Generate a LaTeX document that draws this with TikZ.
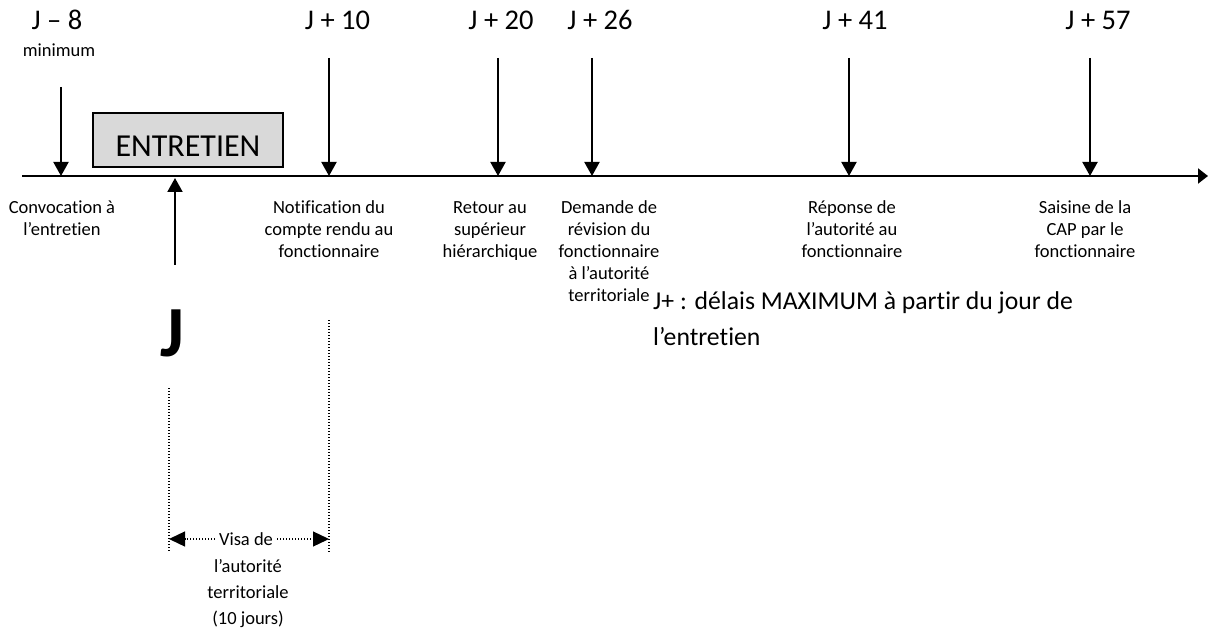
\documentclass[tikz,border=0pt]{standalone}
\usepackage{fontspec}
\setmainfont{Carlito}[Ligatures=NoCommon]
\usetikzlibrary{arrows.meta}
\newcommand\fstrut{\rule{0pt}{15pt}}
\newcommand\bstrut{\rule{0pt}{20pt}}
\begin{document}
\begin{tikzpicture}[x=1pt,y=-1pt,
  evarrow/.style={line width=2pt,-{Triangle[width=15pt,length=14pt]}},
  tlarrow/.style={line width=2pt,-{Triangle[width=15pt,length=10pt]}},
  lbl/.style={font=\fontsize{18.5}{22}\selectfont,align=center,inner sep=0pt,anchor=north},
  toplbl/.style={font=\fontsize{28.5}{34}\selectfont,inner sep=0pt,anchor=base},
  dotline/.style={line width=1.3pt,dash pattern=on 1.3pt off 1.7pt},
  dottip/.style={line width=1.3pt,dash pattern=on 1.3pt off 1.7pt,-{Triangle[width=15pt,length=16pt]}}]
\useasboundingbox (0,0) rectangle (1208,631);

% timeline
\coordinate (tl0) at (22,176);
\coordinate (tl1) at (1208,176);
\draw[tlarrow] (tl0) -- (tl1);

% top labels
\node[toplbl] (jm8) at (57,30) {J – 8};
\node[font=\fontsize{18.5}{22}\selectfont,inner sep=0pt,anchor=base] (min) at (59,57) {minimum};
\node[toplbl] (j10) at (337.5,30) {J + 10};
\node[toplbl] (j20) at (501,30) {J + 20};
\node[toplbl] (j26) at (600,30) {J + 26};
\node[toplbl] (j41) at (855,30) {J + 41};
\node[toplbl] (j57) at (1098,30) {J + 57};

% arrow start / end points
\coordinate (s1) at (61,87);   \coordinate (e1) at (61,176);
\coordinate (s2) at (329,58);  \coordinate (e2) at (329,176);
\coordinate (s3) at (498,58);  \coordinate (e3) at (498,176);
\coordinate (s4) at (592,58);  \coordinate (e4) at (592,176);
\coordinate (s5) at (849,58);  \coordinate (e5) at (849,176);
\coordinate (s6) at (1090,58); \coordinate (e6) at (1090,176);
\foreach \i in {1,...,6} \draw[evarrow] (s\i) -- (e\i);

% entretien box
\node[draw,line width=1.5pt,fill=black!15,minimum width=190pt,minimum height=54pt,
  inner sep=0pt,text height=34pt,text depth=0pt,font=\fontsize{32}{38}\selectfont] (ent) at (188,140) {ENTRETIEN};

% up arrow
\coordinate (us) at (175,265);
\coordinate (ue) at (175,178);
\draw[evarrow] (us) -- (ue);

% bottom labels
\node[lbl] (conv) at (62,198) {\fstrut Convocation à\\l’entretien};
\node[lbl] (notif) at (329,198) {\fstrut Notification du\\compte rendu au\\fonctionnaire};
\node[lbl] (ret) at (490,198) {\fstrut Retour au\\supérieur\\hiérarchique};
\node[lbl] (dem) at (609,198) {\fstrut Demande de\\révision du\\fonctionnaire\\à l’autorité\\territoriale};
\node[lbl] (rep) at (852,198) {\fstrut Réponse de\\l’autorité au\\fonctionnaire};
\node[lbl] (sai) at (1085,198) {\fstrut Saisine de la\\CAP par le\\fonctionnaire};

% big J
\node[font=\bfseries\fontsize{72}{80}\selectfont,inner sep=0pt,anchor=base] (bigj) at (172,356) {J};

% dotted verticals
\coordinate (d1a) at (169,388); \coordinate (d1b) at (169,552);
\coordinate (d2a) at (329,320); \coordinate (d2b) at (329,552);
\draw[dotline] (d1a) -- (d1b);
\draw[dotline] (d2a) -- (d2b);

% visa arrow
\coordinate (vl) at (169,539);
\coordinate (vr) at (329,539);
\node[font=\fontsize{18.5}{22}\selectfont,inner ysep=0pt,inner xsep=4pt] (visa) at (246,539) {Visa de};
\draw[dottip] (visa.west) -- (vl);
\draw[dottip] (visa.east) -- (vr);
\node[lbl,font=\fontsize{18.5}{26}\selectfont] (visa2) at (248,557) {\fstrut l’autorité\\territoriale\\(10 jours)};

% note
\node[font=\fontsize{25.7}{36}\selectfont,align=left,inner sep=0pt,anchor=north west] (note) at (653,289)
  {\bstrut J+ : délais MAXIMUM à partir du jour de\\l’entretien};
\end{tikzpicture}
\end{document}
